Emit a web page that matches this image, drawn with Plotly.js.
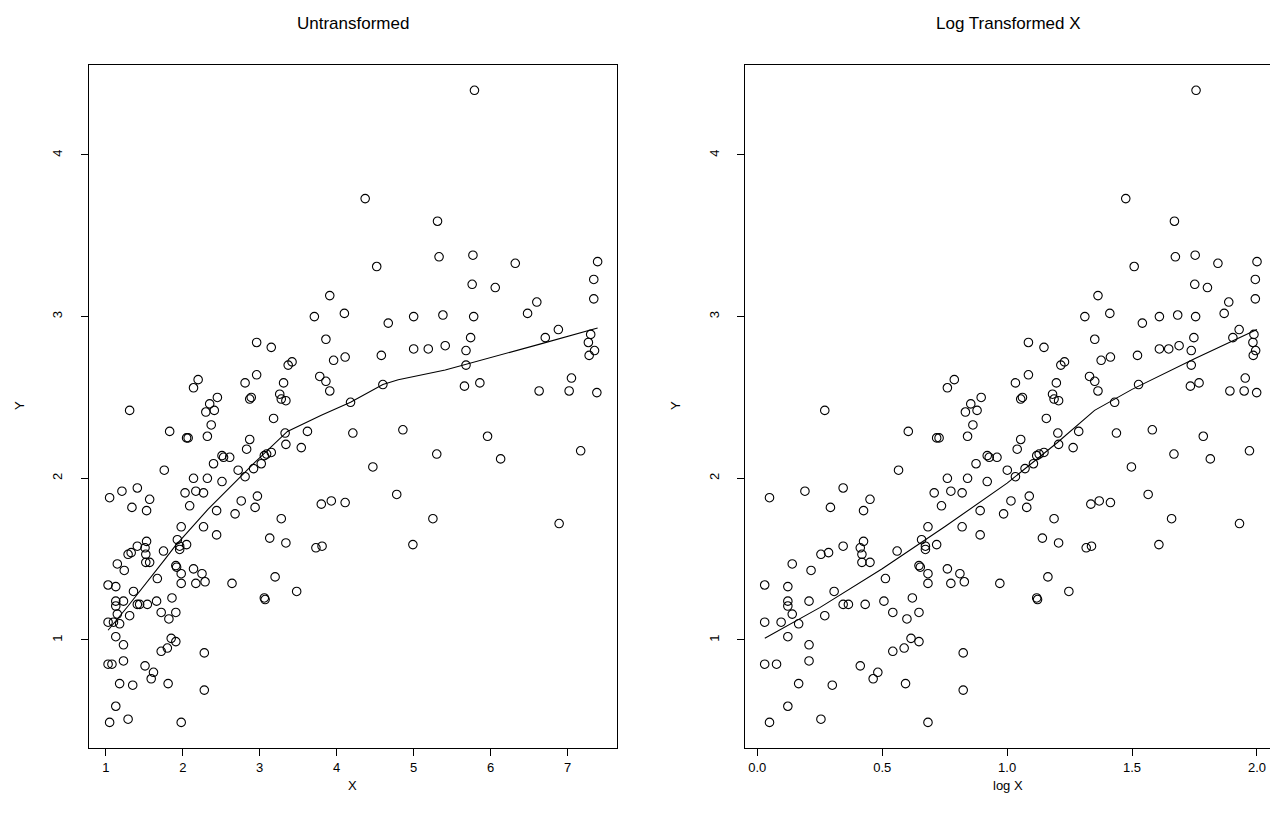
<!DOCTYPE html>
<html>
<head>
<meta charset="utf-8">
<script src="https://cdn.plot.ly/plotly-3.0.1.min.js"></script>
<style>
  html, body { margin: 0; padding: 0; overflow: hidden; background: #fff; }
  #chart { width: 1290px; height: 822px; }
</style>
</head>
<body>
<div id="chart"></div>
<script>
const xVals = [
  1.15,1.24,1.52,1.57,1.91,1.92,1.98,1.03,1.13,1.67,1.98,1.36,1.13,1.23,1.13,1.41,1.44,1.54,1.66,1.86,
  1.15,1.31,1.72,1.82,1.91,1.03,1.10,1.18,1.13,1.23,1.85,1.91,1.80,1.72,1.03,1.08,1.23,1.51,1.62,1.59,
  1.18,1.35,1.81,1.13,1.05,1.29,1.98,
  1.31,1.83,1.76,1.05,1.21,1.41,1.34,1.53,1.57,1.98,1.53,1.41,1.29,1.33,1.51,1.52,1.75,1.93,1.96,1.96,2.05,
  2.14,2.25,2.17,2.29,2.64,3.06,3.07,2.28,2.28,
  2.96,2.20,2.81,2.14,2.89,2.87,2.45,2.35,2.30,2.41,2.37,2.05,2.07,2.32,2.87,2.83,2.40,2.51,2.53,2.61,
  2.14,2.32,2.51,2.72,2.81,2.92,3.02,3.06,2.03,2.17,2.27,2.09,2.44,2.68,2.76,2.97,2.94,2.27,2.44,
  3.71,4.10,3.15,3.86,3.37,3.42,3.96,4.11,3.31,3.78,3.86,3.91,3.26,3.28,3.34,3.18,3.33,3.62,4.18,4.21,
  3.34,3.54,3.09,3.15,3.80,3.93,4.11,3.28,3.13,3.34,3.73,3.81,3.20,3.48,2.96,
  3.91,
  4.37,5.31,5.33,4.52,4.67,5.00,5.38,4.58,5.00,5.19,5.41,4.60,4.86,5.30,4.47,4.78,5.25,4.99,
  5.79,5.77,6.32,5.76,6.06,5.78,6.60,6.48,5.74,5.68,5.68,5.66,5.86,6.63,5.96,6.13,
  7.39,7.34,7.34,6.88,6.71,7.30,7.27,7.35,7.28,7.05,7.02,7.38,7.17,6.89
];
const yVals = [
  1.47,1.43,1.48,1.48,1.46,1.45,1.41,1.34,1.33,1.38,1.35,1.30,1.24,1.24,1.21,1.22,1.22,1.22,1.24,1.26,
  1.16,1.15,1.17,1.13,1.17,1.11,1.11,1.10,1.02,0.97,1.01,0.99,0.95,0.93,0.85,0.85,0.87,0.84,0.80,0.76,
  0.73,0.72,0.73,0.59,0.49,0.51,0.49,
  2.42,2.29,2.05,1.88,1.92,1.94,1.82,1.80,1.87,1.70,1.61,1.58,1.53,1.54,1.57,1.53,1.55,1.62,1.58,1.56,1.59,
  1.44,1.41,1.35,1.36,1.35,1.26,1.25,0.92,0.69,
  2.64,2.61,2.59,2.56,2.50,2.49,2.50,2.46,2.41,2.42,2.33,2.25,2.25,2.26,2.24,2.18,2.09,2.14,2.13,2.13,
  2.00,2.00,1.98,2.05,2.01,2.06,2.09,2.14,1.91,1.92,1.91,1.83,1.80,1.78,1.86,1.89,1.82,1.70,1.65,
  3.00,3.02,2.81,2.86,2.70,2.72,2.73,2.75,2.59,2.63,2.60,2.54,2.52,2.49,2.48,2.37,2.28,2.29,2.47,2.28,
  2.21,2.19,2.15,2.16,1.84,1.86,1.85,1.75,1.63,1.60,1.57,1.58,1.39,1.30,2.84,
  3.13,
  3.73,3.59,3.37,3.31,2.96,3.00,3.01,2.76,2.80,2.80,2.82,2.58,2.30,2.15,2.07,1.90,1.75,1.59,
  4.40,3.38,3.33,3.20,3.18,3.00,3.09,3.02,2.87,2.79,2.70,2.57,2.59,2.54,2.26,2.12,
  3.34,3.23,3.11,2.92,2.87,2.89,2.84,2.79,2.76,2.62,2.54,2.53,2.17,1.72
];

// Smooth (lowess) curve of Y on X
const smoothX = [1.03,1.29,1.77,1.90,2.33,2.94,3.36,3.80,4.18,4.60,4.80,5.41,6.64,7.39];
const smoothY = [1.06,1.21,1.50,1.58,1.81,2.10,2.29,2.39,2.47,2.58,2.61,2.67,2.83,2.93];

// Smooth (lowess) curve of Y on log X
const smoothLogX = [0.03,0.25,0.50,0.75,1.00,1.20,1.35,1.50,1.75,2.00];
const smoothLogY = [1.01,1.20,1.44,1.70,1.97,2.22,2.42,2.55,2.74,2.92];

// Tick labels
const xTicksLeft = [1,2,3,4,5,6,7];
const xTicksRight = [0,0.5,1,1.5,2];
const xTickTextRight = ["0.0","0.5","1.0","1.5","2.0"];
const yTicks = [1,2,3,4];

const logX = xVals.map(v => Math.log(v));

function rlim(arr) {
  const mn = Math.min(...arr), mx = Math.max(...arr), r = mx - mn;
  return [mn - 0.04 * r, mx + 0.04 * r];
}

const W = 1290, H = 822;
const FONT = "'Liberation Sans', Arial, Helvetica, sans-serif";
const px = v => v / W;
const py = v => 1 - v / H;

const pointStyle = {
  symbol: 'circle-open', size: 8.5, color: '#000', line: { width: 1.1, color: '#000' }
};

const traces = [
  { x: xVals, y: yVals, type: 'scatter', mode: 'markers', marker: pointStyle,
    xaxis: 'x', yaxis: 'y', hoverinfo: 'skip', cliponaxis: false },
  { x: smoothX, y: smoothY, type: 'scatter', mode: 'lines',
    line: { color: '#000', width: 1.1 }, xaxis: 'x', yaxis: 'y', hoverinfo: 'skip' },
  { x: logX, y: yVals, type: 'scatter', mode: 'markers', marker: pointStyle,
    xaxis: 'x2', yaxis: 'y2', hoverinfo: 'skip', cliponaxis: false },
  { x: smoothLogX, y: smoothLogY, type: 'scatter', mode: 'lines',
    line: { color: '#000', width: 1.1 }, xaxis: 'x2', yaxis: 'y2', hoverinfo: 'skip' }
];

const axisBase = {
  showline: true, mirror: true, linecolor: '#000', linewidth: 1,
  ticks: 'outside', ticklen: 7, tickwidth: 1, tickcolor: '#000',
  showgrid: false, zeroline: false,
  tickfont: { family: FONT, size: 13, color: '#000' }
};

const yRange = rlim(yVals);
const yDomain = [1 - 747.7 / H, 1 - 65 / H];

const layout = {
  width: W, height: H,
  margin: { l: 0, r: 0, t: 0, b: 0 },
  paper_bgcolor: '#fff', plot_bgcolor: '#fff',
  showlegend: false,
  font: { family: FONT, color: '#000' },
  xaxis: Object.assign({}, axisBase, {
    domain: [px(88.5), px(617.2)], range: rlim(xVals),
    tickmode: 'array', tickvals: xTicksLeft, ticktext: xTicksLeft.map(String),
    anchor: 'y', ticklabelstandoff: 1
  }),
  yaxis: Object.assign({}, axisBase, {
    domain: yDomain, range: yRange,
    tickmode: 'array', tickvals: yTicks, ticktext: yTicks.map(String),
    tickangle: -90, anchor: 'x', ticklabelstandoff: 13
  }),
  xaxis2: Object.assign({}, axisBase, {
    domain: [px(745), px(1276.7)], range: rlim(logX),
    tickmode: 'array', tickvals: xTicksRight, ticktext: xTickTextRight,
    anchor: 'y2', ticklabelstandoff: 1
  }),
  yaxis2: Object.assign({}, axisBase, {
    domain: yDomain, range: yRange,
    tickmode: 'array', tickvals: yTicks, ticktext: yTicks.map(String),
    tickangle: -90, anchor: 'x2', ticklabelstandoff: 13
  }),
  annotations: [
    { text: 'Untransformed', x: px(352.8), y: py(23), xref: 'paper', yref: 'paper',
      showarrow: false, xanchor: 'center', yanchor: 'middle', font: { family: FONT, size: 17, color: '#000' } },
    { text: 'Log Transformed X', x: px(1008), y: py(23), xref: 'paper', yref: 'paper',
      showarrow: false, xanchor: 'center', yanchor: 'middle', font: { family: FONT, size: 17, color: '#000' } },
    { text: 'X', x: px(352.8), y: py(785), xref: 'paper', yref: 'paper',
      showarrow: false, xanchor: 'center', yanchor: 'middle', font: { family: FONT, size: 13, color: '#000' } },
    { text: 'log X', x: px(1008), y: py(785), xref: 'paper', yref: 'paper',
      showarrow: false, xanchor: 'center', yanchor: 'middle', font: { family: FONT, size: 13, color: '#000' } },
    { text: 'Y', x: px(20), y: py(406), xref: 'paper', yref: 'paper', textangle: -90,
      showarrow: false, xanchor: 'center', yanchor: 'middle', font: { family: FONT, size: 13, color: '#000' } },
    { text: 'Y', x: px(676), y: py(406), xref: 'paper', yref: 'paper', textangle: -90,
      showarrow: false, xanchor: 'center', yanchor: 'middle', font: { family: FONT, size: 13, color: '#000' } }
  ]
};

Plotly.newPlot('chart', traces, layout, { staticPlot: true, displayModeBar: false });
</script>
</body>
</html>
